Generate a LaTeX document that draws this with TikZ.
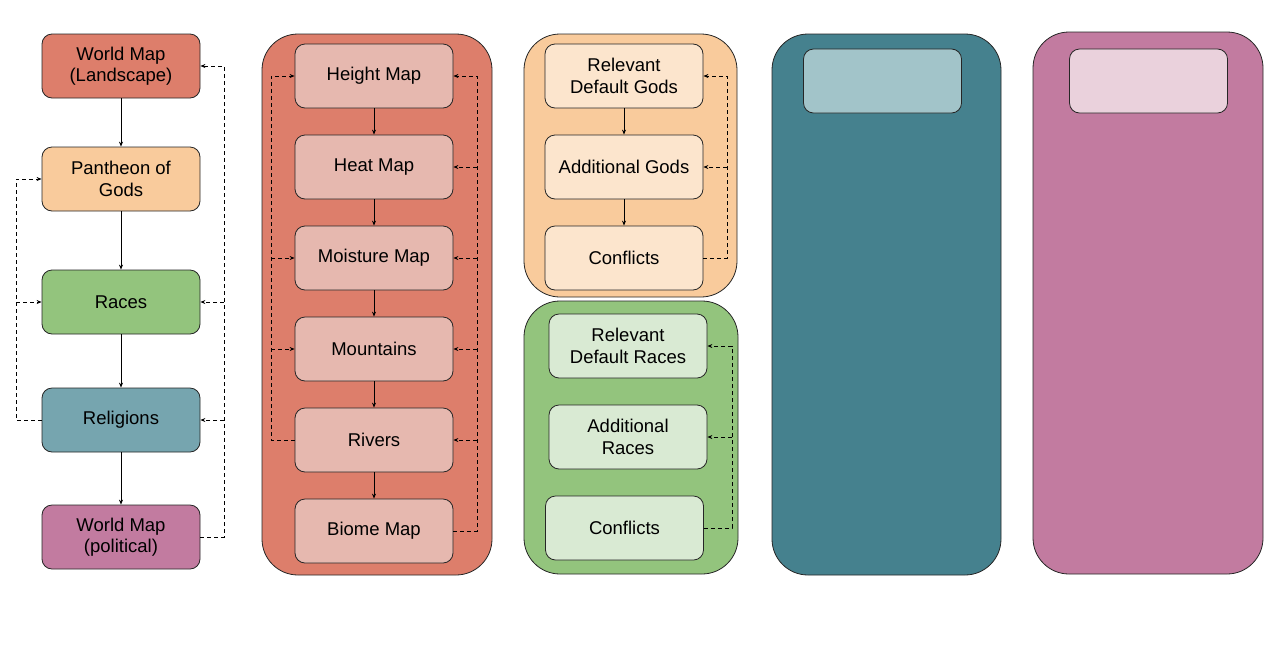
\documentclass[tikz,border=0pt]{standalone}
\usepackage{fontspec}
\setmainfont{Liberation Sans}
\usetikzlibrary{arrows.meta,positioning,calc}
\definecolor{berry1}{HTML}{DD7E6B}
\definecolor{berry2}{HTML}{E6B8AF}
\definecolor{orange2}{HTML}{F9CB9C}
\definecolor{orange3}{HTML}{FCE5CD}
\definecolor{green1}{HTML}{93C47D}
\definecolor{green3}{HTML}{D9EAD3}
\definecolor{cyan1}{HTML}{76A5AF}
\definecolor{cyan2}{HTML}{A2C4C9}
\definecolor{dcyan1}{HTML}{45818E}
\definecolor{magenta1}{HTML}{C27BA0}
\definecolor{magenta3}{HTML}{EAD1DC}
\tikzset{
  >={Stealth[length=5pt,width=4pt]},
  box/.style={rectangle, draw=black!85, line width=0.8pt, rounded corners=10pt,
    minimum width=158pt, minimum height=64pt, inner sep=0pt, align=center,
    font=\fontsize{18.5}{21.5}\selectfont},
  group/.style={rectangle, draw=black!85, line width=0.8pt, rounded corners=36pt, inner sep=0pt},
  flow/.style={->, line width=0.8pt},
  fb/.style={->, line width=0.8pt, dash pattern=on 4pt off 3pt},
  fbline/.style={line width=0.8pt, dash pattern=on 4pt off 3pt}
}
\begin{document}
\begin{tikzpicture}[x=1pt, y=-1pt]
    \useasboundingbox (0,0) rectangle (1285,646);

    % Main pipeline
    \node[box, fill=berry1] (land) at (121, 66) {World Map\\(Landscape)};
    \node[box, fill=orange2] (pantheon) at (121, 179) {Pantheon of\\Gods};
    \node[box, fill=green1] (races) at (121, 302) {Races};
    \node[box, fill=cyan1] (religions) at (121, 420) {Religions};
    \node[box, fill=magenta1] (political) at (121, 537) {World Map\\(political)};

    \draw[flow] (land) -- (pantheon);
    \draw[flow] (pantheon) -- (races);
    \draw[flow] (races) -- (religions);
    \draw[flow] (religions) -- (political);

    % Feedback of the main pipeline
    \coordinate (lbus) at (16, 0);
    \coordinate (rbus) at (224, 0);
    \draw[fb] (religions.west) -- (lbus |- religions.west) -- (lbus |- pantheon.west) -- (pantheon.west);
    \draw[fb] (lbus |- races.west) -- (races.west);
    \draw[fb] (political.east) -- (rbus |- political.east) -- (rbus |- land.east) -- (land.east);
    \draw[fb] (rbus |- races.east) -- (races.east);
    \draw[fb] (rbus |- religions.east) -- (religions.east);

    % Landscape group
    \node[group, fill=berry1, minimum width=230pt, minimum height=541pt] (landgrp) at (377, 304.5) {};
    \node[box, fill=berry2] (height) at (374, 76) {Height Map};
    \node[box, fill=berry2] (heat) at (374, 167) {Heat Map};
    \node[box, fill=berry2] (moist) at (374, 258) {Moisture Map};
    \node[box, fill=berry2] (mount) at (374, 349) {Mountains};
    \node[box, fill=berry2] (rivers) at (374, 440) {Rivers};
    \node[box, fill=berry2] (biome) at (374, 531) {Biome Map};

    \draw[flow] (height) -- (heat);
    \draw[flow] (heat) -- (moist);
    \draw[flow] (moist) -- (mount);
    \draw[flow] (mount) -- (rivers);
    \draw[flow] (rivers) -- (biome);

    \coordinate (llbus) at (271, 0);
    \coordinate (lrbus) at (477, 0);
    \draw[fb] (rivers.west) -- (llbus |- rivers.west) -- (llbus |- height.west) -- (height.west);
    \draw[fb] (llbus |- moist.west) -- (moist.west);
    \draw[fb] (llbus |- mount.west) -- (mount.west);
    \draw[fb] (biome.east) -- (lrbus |- biome.east) -- (lrbus |- height.east) -- (height.east);
    \foreach \n in {heat, moist, mount, rivers}
      \draw[fb] (lrbus |- \n.east) -- (\n.east);

    % Pantheon group
    \node[group, fill=orange2, minimum width=213pt, minimum height=263pt] (godgrp) at (630.5, 165.5) {};
    \node[box, fill=orange3] (defgods) at (624, 76) {Relevant\\Default Gods};
    \node[box, fill=orange3] (addgods) at (624, 167) {Additional Gods};
    \node[box, fill=orange3] (godconf) at (624, 258) {Conflicts};

    \draw[flow] (defgods) -- (addgods);
    \draw[flow] (addgods) -- (godconf);

    \coordinate (gbus) at (727, 0);
    \draw[fb] (godconf.east) -- (gbus |- godconf.east) -- (gbus |- defgods.east) -- (defgods.east);
    \draw[fb] (gbus |- addgods.east) -- (addgods.east);

    % Races group
    \node[group, fill=green1, minimum width=214pt, minimum height=273pt] (racegrp) at (631, 437.5) {};
    \node[box, fill=green3] (defraces) at (628, 346) {Relevant\\Default Races};
    \node[box, fill=green3] (addraces) at (628, 437) {Additional\\Races};
    \node[box, fill=green3] (raceconf) at (624.5, 528) {Conflicts};

    \coordinate (rcbus) at (732, 0);
    \draw[fb] (raceconf.east) -- (rcbus |- raceconf.east) -- (rcbus |- defraces.east) -- (defraces.east);
    \draw[fb] (rcbus |- addraces.east) -- (addraces.east);

    % Religions group (empty)
    \node[group, fill=dcyan1, minimum width=229pt, minimum height=541pt] (relgrp) at (886.5, 304.5) {};
    \node[box, fill=cyan2] (relfirst) at (882.5, 81) {};

    % Political map group (empty)
    \node[group, fill=magenta1, minimum width=230pt, minimum height=542pt] (polgrp) at (1148, 303) {};
    \node[box, fill=magenta3] (polfirst) at (1148.5, 81) {};
\end{tikzpicture}
\end{document}
